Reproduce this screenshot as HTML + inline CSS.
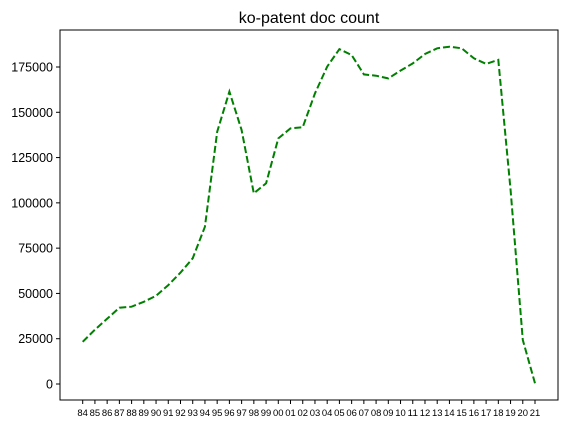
<!DOCTYPE html>
<html><head><meta charset="utf-8"><style>
body{margin:0;background:#fff;}
svg text{font-family:"Liberation Sans","DejaVu Sans",sans-serif;fill:#000;}
</style></head><body>
<svg id="chart" width="566" height="427" xmlns="http://www.w3.org/2000/svg">
<rect width="566" height="427" fill="#fff"/>
<text x="309" y="23" font-size="16" text-anchor="middle">ko-patent doc count</text>
<g id="yaxis"></g>
<g id="xaxis"></g>
<path id="line" fill="none" stroke="#008000" stroke-width="2" stroke-dasharray="7,3"/>
<rect x="60" y="30" width="498" height="370" fill="none" stroke="#000" stroke-width="1"/>
</svg>
<script>
const categories=["84","85","86","87","88","89","90","91","92","93","94","95","96","97","98","99","00","01","02","03","04","05","06","07","08","09","10","11","12","13","14","15","16","17","18","19","20","21"];
const docCounts=[23300,30000,36000,42100,42700,45400,48700,54600,61500,69400,86800,139300,161400,140200,105300,110800,135600,141100,141700,160500,175200,184900,181600,170900,170200,168700,173000,177000,182200,185300,186200,185300,179800,176700,178900,107000,24300,400];
const yTicks=[0,25000,50000,75000,100000,125000,150000,175000];
const svg=document.getElementById('chart');
const NS='http://www.w3.org/2000/svg';
function xPos(i){return 82.7+i*(535-82.7)/(categories.length-1);}
function yPos(v){return 384-v*(317/175000);}
const ya=document.getElementById('yaxis'),xa=document.getElementById('xaxis');
yTicks.forEach(t=>{
  const y=yPos(t);
  const l=document.createElementNS(NS,'line');
  
  
  l.setAttribute('x1',56);l.setAttribute('x2',60);l.setAttribute('y1',y);l.setAttribute('y2',y);l.setAttribute('stroke','#000');
  ya.appendChild(l);
  const tx=document.createElementNS(NS,'text');
  
  
  tx.setAttribute('x',53);tx.setAttribute('y',y+4.5);tx.setAttribute('font-size','12.5');tx.setAttribute('text-anchor','end');
  tx.textContent=t;ya.appendChild(tx);
});
categories.forEach((c,i)=>{
  const x=xPos(i);
  const l=document.createElementNS(NS,'line');
  
  
  l.setAttribute('x1',x);l.setAttribute('x2',x);l.setAttribute('y1',400);l.setAttribute('y2',404);l.setAttribute('stroke','#000');
  xa.appendChild(l);
  const tx=document.createElementNS(NS,'text');
  
  
  tx.setAttribute('x',x);tx.setAttribute('y',416);tx.setAttribute('font-size','9');tx.setAttribute('text-anchor','middle');
  tx.setAttribute('textLength','10.5');tx.setAttribute('lengthAdjust','spacingAndGlyphs');
  tx.textContent=c;xa.appendChild(tx);
});
document.getElementById('line').setAttribute('d',docCounts.map((v,i)=>(i?'L':'M')+xPos(i).toFixed(1)+','+yPos(v).toFixed(1)).join(' '));
</script>
</body></html>
